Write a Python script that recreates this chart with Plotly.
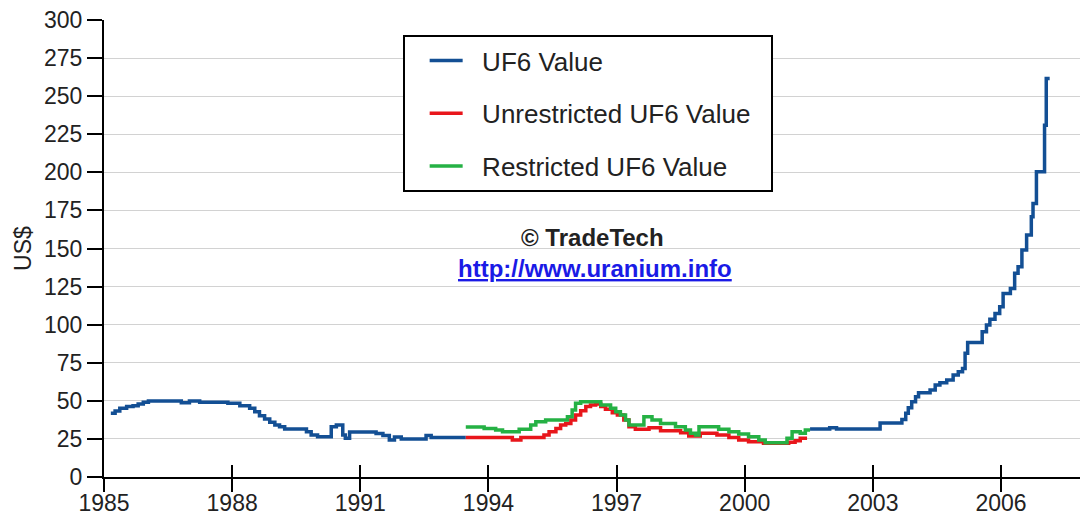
import plotly.graph_objects as go

# ---- data (decimal years, US$) ----
uf6_years_early = [1985.16, 1985.26, 1985.37, 1985.53, 1985.68, 1985.80, 1985.92, 1986.04, 1986.81, 1987.00,
                   1987.24, 1987.90, 1988.18, 1988.41, 1988.53, 1988.64, 1988.76, 1988.88, 1989.00, 1989.11,
                   1989.23, 1989.74, 1989.85, 1990.00, 1990.32, 1990.44, 1990.59, 1990.65, 1990.75, 1991.37,
                   1991.53, 1991.68, 1991.80, 1991.96, 1992.54, 1992.66, 1993.47]
uf6_vals_early = [41.8, 43.3, 45.1, 46.2, 46.8, 47.9, 49.0, 49.9, 48.8, 49.9,
                  49.0, 48.4, 46.8, 45.1, 42.9, 40.2, 38.1, 35.9, 34.1, 33.0,
                  31.5, 29.7, 27.6, 26.5, 33.0, 34.1, 27.6, 25.4, 29.5, 28.5,
                  27.3, 24.3, 26.3, 25.0, 27.3, 26.0, 26.0]

uf6_years_late = [2001.53, 2001.99, 2002.15, 2003.17, 2003.68, 2003.77, 2003.83, 2003.91, 2004.00, 2004.07,
                  2004.34, 2004.46, 2004.57, 2004.73, 2004.88, 2005.00, 2005.10, 2005.16, 2005.22, 2005.56,
                  2005.66, 2005.74, 2005.86, 2005.97, 2006.05, 2006.22, 2006.32, 2006.40, 2006.49, 2006.60,
                  2006.71, 2006.75, 2006.83, 2007.02, 2007.06, 2007.14]
uf6_vals_late = [31.5, 32.4, 31.5, 35.5, 37.8, 41.8, 45.5, 49.4, 52.7, 55.3,
                 57.1, 60.4, 61.9, 63.6, 66.9, 69.1, 71.3, 81.2, 88.3, 95.3,
                 99.7, 103.5, 107.4, 111.8, 120.5, 123.8, 133.7, 138.0, 149.0, 158.8,
                 170.8, 179.6, 200.4, 230.9, 261.6, 261.6]

unres_years = [1993.47, 1994.56, 1994.76, 1995.30, 1995.42, 1995.58, 1995.69, 1995.81, 1995.93, 1996.04,
               1996.16, 1996.28, 1996.39, 1996.51, 1996.63, 1996.74, 1996.90, 1997.02, 1997.17, 1997.29,
               1997.44, 1997.76, 1998.03, 1998.50, 1998.69, 1998.96, 1999.35, 1999.63, 1999.86, 2000.09,
               2000.44, 2001.03, 2001.18, 2001.30, 2001.46]
unres_vals = [26.0, 24.3, 26.0, 27.6, 29.7, 31.9, 34.1, 35.2, 37.4, 40.7,
              43.5, 46.2, 47.3, 47.9, 46.2, 44.4, 42.2, 40.7, 37.4, 33.0,
              31.3, 32.4, 30.4, 29.1, 26.9, 28.7, 27.6, 26.0, 24.3, 23.2,
              22.1, 22.8, 23.8, 25.4, 25.4]

res_years = [1993.47, 1993.90, 1994.17, 1994.33, 1994.72, 1994.99, 1995.11, 1995.34, 1995.85, 1995.96,
             1996.04, 1996.16, 1996.63, 1996.86, 1996.98, 1997.09, 1997.21, 1997.29, 1997.64, 1997.83,
             1998.03, 1998.38, 1998.61, 1998.73, 1998.85, 1998.93, 1999.39, 1999.63, 1999.86, 2000.09,
             2000.33, 2000.48, 2000.99, 2001.11, 2001.30, 2001.42, 2001.53]
res_vals = [32.8, 31.9, 30.8, 29.7, 31.3, 34.1, 36.3, 37.4, 39.6, 44.0,
            48.4, 49.4, 47.3, 45.1, 42.9, 40.7, 37.4, 34.1, 39.6, 37.4,
            35.2, 33.0, 30.8, 28.7, 27.6, 33.0, 31.3, 29.7, 28.2, 26.5,
            24.3, 22.5, 25.4, 29.7, 28.7, 30.8, 30.8]

x_tick_vals = [1985, 1988, 1991, 1994, 1997, 2000, 2003, 2006]
y_tick_vals = [0, 25, 50, 75, 100, 125, 150, 175, 200, 225, 250, 275, 300]

series_names = ["UF6 Value", "Unrestricted UF6 Value", "Restricted UF6 Value"]
series_colors = ["#134f94", "#e8161b", "#25b144"]

FONT = "Liberation Sans, Arial, sans-serif"
NB = "\u00a0\u00a0"

fig = go.Figure()

uf6_x = uf6_years_early + [None] + uf6_years_late
uf6_y = uf6_vals_early + [None] + uf6_vals_late

fig.add_trace(go.Scatter(x=uf6_x, y=uf6_y, mode="lines", name=NB + series_names[0],
                         line=dict(color=series_colors[0], width=3.5, shape="hv"),
                         connectgaps=False, legendgroup="a"))
fig.add_trace(go.Scatter(x=unres_years, y=unres_vals, mode="lines", name=NB + series_names[1] + NB,
                         line=dict(color=series_colors[1], width=3.5, shape="hv"), legendgroup="b"))
fig.add_trace(go.Scatter(x=res_years, y=res_vals, mode="lines", name=NB + series_names[2],
                         line=dict(color=series_colors[2], width=3.5, shape="hv"), legendgroup="c"))
# empty trace so the overlay axis (inner tick marks) is drawn
fig.add_trace(go.Scatter(x=[], y=[], xaxis="x2", showlegend=False, hoverinfo="skip"))

x_range = [1985, 2007.85]

fig.update_layout(
    width=1080, height=522,
    paper_bgcolor="white", plot_bgcolor="white",
    margin=dict(l=104, r=0, t=20, b=45),
    font=dict(family=FONT, color="#222222"),
    showlegend=True,
    legend=dict(x=0.306, y=0.967, xanchor="left", yanchor="top",
                bordercolor="black", borderwidth=2, bgcolor="white",
                font=dict(size=26, family=FONT, color="#222222"),
                traceorder="grouped", tracegroupgap=16, indentation=20, itemwidth=33),
    xaxis=dict(range=x_range, tickmode="array", tickvals=x_tick_vals, automargin=False,
               ticks="outside", ticklen=13, tickwidth=2, tickcolor="black",
               ticklabelstandoff=-9,
               showline=True, linecolor="black", linewidth=2,
               showgrid=False, zeroline=False,
               tickfont=dict(size=23, family=FONT, color="#222222")),
    xaxis2=dict(range=x_range, overlaying="x", matches="x", anchor="y", side="bottom",
                tickmode="array", tickvals=x_tick_vals, ticks="inside", ticklen=12,
                tickwidth=2, tickcolor="black", showticklabels=False, automargin=False,
                showline=False, showgrid=False, zeroline=False),
    yaxis=dict(range=[0, 300], tickmode="array", tickvals=y_tick_vals, automargin=False,
               ticks="outside", ticklen=15, tickwidth=2, tickcolor="black",
               showline=True, linecolor="black", linewidth=2,
               showgrid=True, gridcolor="#d2d2d2", gridwidth=1, zeroline=False,
               tickfont=dict(size=23, family=FONT, color="#222222"),
               title=dict(text="US$", font=dict(size=23, family=FONT, color="#222222"), standoff=6)),
    annotations=[
        dict(text="<b>© TradeTech</b>", xref="paper", yref="paper", x=0.501, y=0.525,
             showarrow=False, font=dict(size=24, family=FONT, color="#222222")),
        dict(text="<b><a href='http://www.uranium.info' style='color:#1a1ae6'>"
                  "<span style='text-decoration:underline;color:#1a1ae6'>http://www.uranium.info</span></a></b>",
             xref="paper", yref="paper", x=0.503, y=0.457,
             showarrow=False, font=dict(size=24, family=FONT, color="#1a1ae6")),
    ],
)

fig.write_html("out.html", config={"displayModeBar": False},
               post_script="document.body.style.margin='0px';")
